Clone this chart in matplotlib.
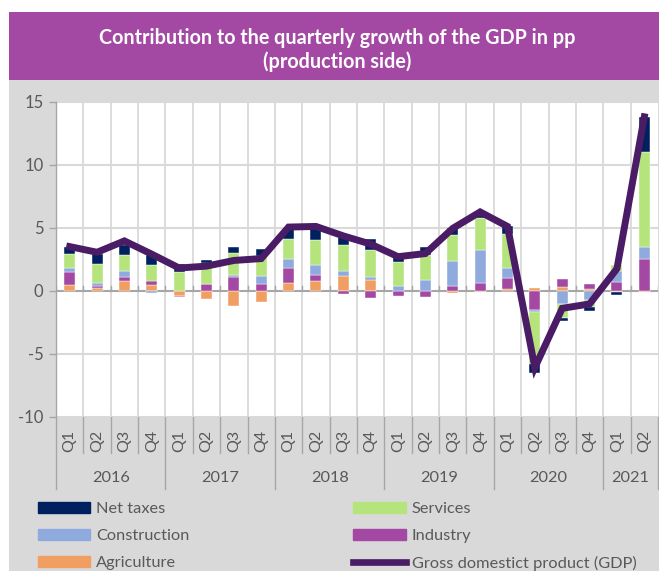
import matplotlib
matplotlib.use("Agg")
import matplotlib.pyplot as plt
import matplotlib.transforms as mtransforms
from matplotlib.patches import Rectangle, Patch
from matplotlib.lines import Line2D
import numpy as np

plt.rcParams['font.family'] = ['Lato', 'DejaVu Sans']

# data (pp)
years = ['2016', '2017', '2018', '2019', '2020', '2021']
quarters = ['Q1', 'Q2', 'Q3', 'Q4'] * 5 + ['Q1', 'Q2']
agriculture = [0.43, 0.24, 0.74, 0.43, -0.45, -0.64, -1.22, -0.88, 0.59, 0.74, 1.14, 0.88,
               0.0, 0.0, -0.2, -0.13, 0.16, 0.19, 0.29, 0.15, -0.08, -0.13]
industry = [1.06, 0.11, 0.35, 0.34, -0.03, 0.53, 1.09, 0.53, 1.22, 0.48, -0.29, -0.58,
            -0.43, -0.5, 0.35, 0.61, 0.85, -1.57, 0.61, 0.35, 0.72, 2.5]
construction = [0.32, 0.26, 0.45, -0.19, -0.03, 0.0, 0.13, 0.64, 0.69, 0.78, 0.43, 0.21,
                0.37, 0.82, 1.99, 2.61, 0.8, -0.13, -1.09, -0.72, 0.82, 0.98]
services = [1.09, 1.52, 1.28, 1.3, 1.49, 1.7, 1.81, 1.57, 1.6, 2.05, 2.02, 2.15,
            1.92, 2.0, 2.07, 2.58, 2.66, -4.12, -1.09, -0.58, 0.53, 7.53]
net_taxes = [0.58, 0.82, 0.8, 0.75, 0.66, 0.19, 0.4, 0.56, 0.85, 0.9, 0.82, 0.86,
             0.66, 0.61, 0.53, 0.34, 0.69, -0.75, -0.19, -0.32, -0.29, 2.79]
gdp = [3.5, 3.05, 3.95, 2.9, 1.8, 1.95, 2.4, 2.55, 5.05, 5.1, 4.35, 3.7,
       2.7, 2.95, 4.95, 6.25, 5.1, -6.1, -1.4, -1.05, 1.75, 13.8]

series = [('Agriculture', agriculture, '#F19E62'),
          ('Industry', industry, '#A349A4'),
          ('Construction', construction, '#8FAADC'),
          ('Services', services, '#B4E47B'),
          ('Net taxes', net_taxes, '#002060')]
gdp_color = '#4A1C66'
bg_gray = '#D9D9D9'
txt_gray = '#595959'

W, H = 659, 571
fig = plt.figure(figsize=(W / 100, H / 100), dpi=100, facecolor='white')

def fx(px):
    return px / W

def fy(py):
    return 1 - py / H

# background panels
fig.patches.append(Rectangle((fx(9), 0), fx(W - 9), fy(80), transform=fig.transFigure,
                             facecolor=bg_gray, edgecolor='none', zorder=-5))
fig.patches.append(Rectangle((fx(9), fy(80)), fx(W - 9), fy(12) - fy(80), transform=fig.transFigure,
                             facecolor='#A349A4', edgecolor='none', zorder=-5))
fig.text(fx(337), fy(38), 'Contribution to the quarterly growth of the GDP in pp',
         ha='center', va='center', color='white', fontsize=14.2, fontweight='bold')
fig.text(fx(337), fy(62), '(production side)',
         ha='center', va='center', color='white', fontsize=14.2, fontweight='bold')

ax_l, ax_r, ax_t, ax_b = 56, 658, 101.7, 416.7
ax = fig.add_axes([fx(ax_l), fy(ax_b), fx(ax_r - ax_l), fy(ax_t) - fy(ax_b)])
ax.set_zorder(2)
ax.set_facecolor('white')

n = len(gdp)
x = np.arange(n)
pos_base = np.zeros(n)
neg_base = np.zeros(n)
for name, vals, col in series:
    v = np.array(vals)
    bottom = np.where(v >= 0, pos_base, neg_base)
    ax.bar(x, v, width=0.4, bottom=bottom, color=col, edgecolor='white', linewidth=0.3, zorder=3)
    pos_base = pos_base + np.where(v > 0, v, 0)
    neg_base = neg_base + np.where(v < 0, v, 0)

ax.plot(x, gdp, color=gdp_color, lw=5, solid_joinstyle='miter', zorder=4)

ax.set_xlim(-0.5, n - 0.5)
ax.set_ylim(-10, 15)
ax.set_yticks([-10, -5, 0, 5, 10, 15])
ax.set_yticklabels(['-10', '-5', '0', '5', '10', '15'])
ax.tick_params(axis='y', length=5, width=1, color='#A6A6A6', labelsize=12,
               labelcolor=txt_gray, pad=4)
ax.set_xticks([])
for s in ['top', 'right', 'bottom']:
    ax.spines[s].set_visible(False)
ax.spines['left'].set_color('#A6A6A6')
ax.spines['left'].set_linewidth(1)

for yv in [-10, -5, 5, 10, 15]:
    ax.axhline(yv, color='#D9D9D9', lw=1.5, zorder=1)
for b in np.arange(0.5, n - 0.5, 1):
    ax.axvline(b, color='#D9D9D9', lw=1.3, zorder=1)
ax.axhline(0, color='#A6A6A6', lw=1.5, zorder=2)
# little tick marks on the zero line
for b in np.arange(-0.5, n, 1):
    ax.plot([b, b], [0, 0.35], color='#A6A6A6', lw=1, zorder=2)

# category axis below the plot
tr = mtransforms.blended_transform_factory(ax.transData, fig.transFigure)
for i, q in enumerate(quarters):
    fig.text(0, 0, q, transform=tr, rotation=90, ha='center', va='center',
             fontsize=11.5, color=txt_gray).set_position((i, fy(441)))
year_bounds = [-0.5, 3.5, 7.5, 11.5, 15.5, 19.5, 21.5]
for b in np.arange(-0.5, n, 1):
    if b in year_bounds:
        y_end = 489
    else:
        y_end = 453
    fig.add_artist(Line2D([b, b], [fy(ax_b), fy(y_end)], transform=tr, color='#A6A6A6', lw=1))
for k, yr in enumerate(years):
    mid = (year_bounds[k] + year_bounds[k + 1]) / 2
    fig.text(0, 0, yr, transform=tr, ha='center', va='center', fontsize=11.8,
             color=txt_gray).set_position((mid, fy(478)))

handles = [Patch(color='#002060'), Patch(color='#8FAADC'), Patch(color='#F19E62'),
           Patch(color='#B4E47B'), Patch(color='#A349A4'),
           Line2D([], [], color=gdp_color, lw=4.8)]
labels = ['Net taxes', 'Construction', 'Agriculture', 'Services', 'Industry',
          'Gross domestict product (GDP)']
leg = fig.legend(handles, labels, ncol=2, loc='upper left', bbox_to_anchor=(fx(38), fy(502)),
                 frameon=False, fontsize=11.8, handlelength=3.2, handletextpad=0.35,
                 columnspacing=10.0, labelspacing=0.76, borderpad=0, borderaxespad=0)
for t in leg.get_texts():
    t.set_color(txt_gray)

fig.savefig('out.png', dpi=100, facecolor='white')
